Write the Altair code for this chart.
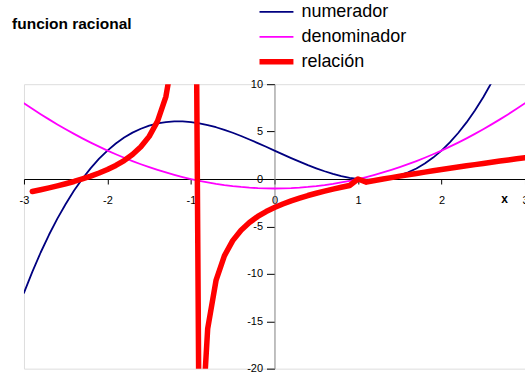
import altair as alt
import pandas as pd

# abscissas sampled every 0.1 on [-3, 3]
xs = [-3.0, -2.9, -2.8, -2.7, -2.6, -2.5, -2.4, -2.3, -2.2, -2.1,
      -2.0, -1.9, -1.8, -1.7, -1.6, -1.5, -1.4, -1.3, -1.2, -1.1,
      -1.0, -0.9, -0.8, -0.7, -0.6, -0.5, -0.4, -0.3, -0.2, -0.1,
      0.0, 0.1, 0.2, 0.3, 0.4, 0.5, 0.6, 0.7, 0.8, 0.9,
      1.0, 1.1, 1.2, 1.3, 1.4, 1.5, 1.6, 1.7, 1.8, 1.9,
      2.0, 2.1, 2.2, 2.3, 2.4, 2.5, 2.6, 2.7, 2.8, 2.9, 3.0]

numerador = [-12.00, -9.79, -7.75, -5.88, -4.18, -2.63, -1.22, 0.03, 1.15, 2.14,
             3.00, 3.74, 4.37, 4.89, 5.30, 5.63, 5.86, 6.00, 6.07, 6.07,
             6.00, 5.87, 5.69, 5.46, 5.18, 4.88, 4.54, 4.17, 3.79, 3.40,
             3.00, 2.60, 2.21, 1.83, 1.46, 1.13, 0.82, 0.54, 0.31, 0.13,
             0.00, -0.07, -0.07, 0.00, 0.14, 0.38, 0.70, 1.11, 1.63, 2.26,
             3.00, 3.86, 4.85, 5.97, 7.22, 8.63, 10.18, 11.88, 13.75, 15.79, 18.00]

denominador = [8.00, 7.41, 6.84, 6.29, 5.76, 5.25, 4.76, 4.29, 3.84, 3.41,
               3.00, 2.61, 2.24, 1.89, 1.56, 1.25, 0.96, 0.69, 0.44, 0.21,
               0.00, -0.19, -0.36, -0.51, -0.64, -0.75, -0.84, -0.91, -0.96, -0.99,
               -1.00, -0.99, -0.96, -0.91, -0.84, -0.75, -0.64, -0.51, -0.36, -0.19,
               0.00, 0.21, 0.44, 0.69, 0.96, 1.25, 1.56, 1.89, 2.24, 2.61,
               3.00, 3.41, 3.84, 4.29, 4.76, 5.25, 5.76, 6.29, 6.84, 7.41, 8.00]

relacion = [None, -1.32, -1.13, -0.94, -0.73, -0.50, -0.26, 0.01, 0.30, 0.63,
            1.00, 1.43, 1.95, 2.59, 3.40, 4.50, 6.10, 8.70, 13.80, 28.90,
            100.0, -30.90, -15.80, -10.70, -8.10, -6.50, -5.40, -4.59, -3.95, -3.43,
            -3.00, -2.63, -2.30, -2.01, -1.74, -1.50, -1.28, -1.06, -0.87, -0.68,
            0.00, -0.33, -0.16, 0.00, 0.15, 0.30, 0.45, 0.59, 0.73, 0.87,
            1.00, 1.13, 1.26, 1.39, 1.52, 1.64, 1.77, 1.89, 2.01, 2.13, 2.25]

series_names = ["numerador", "denominador", "relación"]
series_colors = ["#000080", "#FF00FF", "#FF0000"]
series_widths = [1.8, 1.8, 5.5]

x_ticks = [-3, -2, -1, 0, 1, 2, 3]
y_ticks = [-20, -15, -10, -5, 0, 5, 10]

rows = []
for name, vals in zip(series_names, [numerador, denominador, relacion]):
    for x, v in zip(xs, vals):
        if v is not None:
            rows.append({"x": x, "valor": v, "serie": name})
df = pd.DataFrame(rows)

FONT = "Liberation Sans"
W, H = 502, 285

legend = alt.Legend(
    title=None,
    orient="none",
    legendX=233,
    legendY=-85,
    symbolType="stroke",
    symbolSize=1156,
    labelFont=FONT,
    labelFontSize=18,
    labelColor="black",
    labelOffset=5,
    clipHeight=25,
    rowPadding=0,
    padding=0,
)

minus_fix = "datum.value < 0 ? '-' + abs(datum.value) : '' + datum.value"

chart = (
    alt.Chart(df)
    .mark_line(clip=True, strokeCap="round", strokeJoin="round")
    .encode(
        x=alt.X(
            "x:Q",
            scale=alt.Scale(domain=[-3, 3], nice=False, zero=False),
            axis=alt.Axis(
                values=x_ticks,
                offset=-190,
                grid=False,
                domainColor="black",
                tickColor="black",
                tickSize=5,
                labelPadding=11,
                labelFont=FONT,
                labelFontSize=11,
                labelColor="black",
                labelFlush=False,
                labelOverlap=False,
                labelExpr=minus_fix,
                title="x",
                titleFont=FONT,
                titleFontSize=12,
                titleFontWeight="bold",
                titleColor="black",
                titleX=481,
                titleY=24,
                titleAlign="center",
                titleBaseline="alphabetic",
            ),
        ),
        y=alt.Y(
            "valor:Q",
            scale=alt.Scale(domain=[-20, 10], nice=False, zero=False),
            axis=alt.Axis(
                values=y_ticks,
                offset=-W / 2,
                grid=False,
                domainColor="#808080",
                tickColor="black",
                tickSize=8,
                labelPadding=4,
                labelFont=FONT,
                labelFontSize=11,
                labelColor="black",
                labelFlush=False,
                labelOverlap=False,
                labelExpr=minus_fix,
                title=None,
            ),
        ),
        color=alt.Color(
            "serie:O",
            sort=series_names,
            scale=alt.Scale(domain=series_names, range=series_colors),
            legend=legend,
        ),
        strokeWidth=alt.StrokeWidth(
            "serie:O",
            sort=series_names,
            scale=alt.Scale(type="ordinal", domain=series_names, range=series_widths),
            legend=legend,
        ),
    )
    .properties(
        width=W,
        height=H,
        autosize=alt.AutoSizeParams(type="none"),
        padding={"left": 24, "top": 84, "right": 0, "bottom": 3},
        title=alt.TitleParams(
            "funcion racional",
            anchor="start",
            font=FONT,
            fontSize=15.5,
            fontWeight="bold",
            color="black",
            dx=-7,
            offset=0,
            baseline="alphabetic",
            dy=45,
        ),
    )
    .configure_view(stroke="#808080", strokeWidth=1)
    .configure(background="white")
)

chart.save("out.html", embed_options={"renderer": "svg", "actions": False})
